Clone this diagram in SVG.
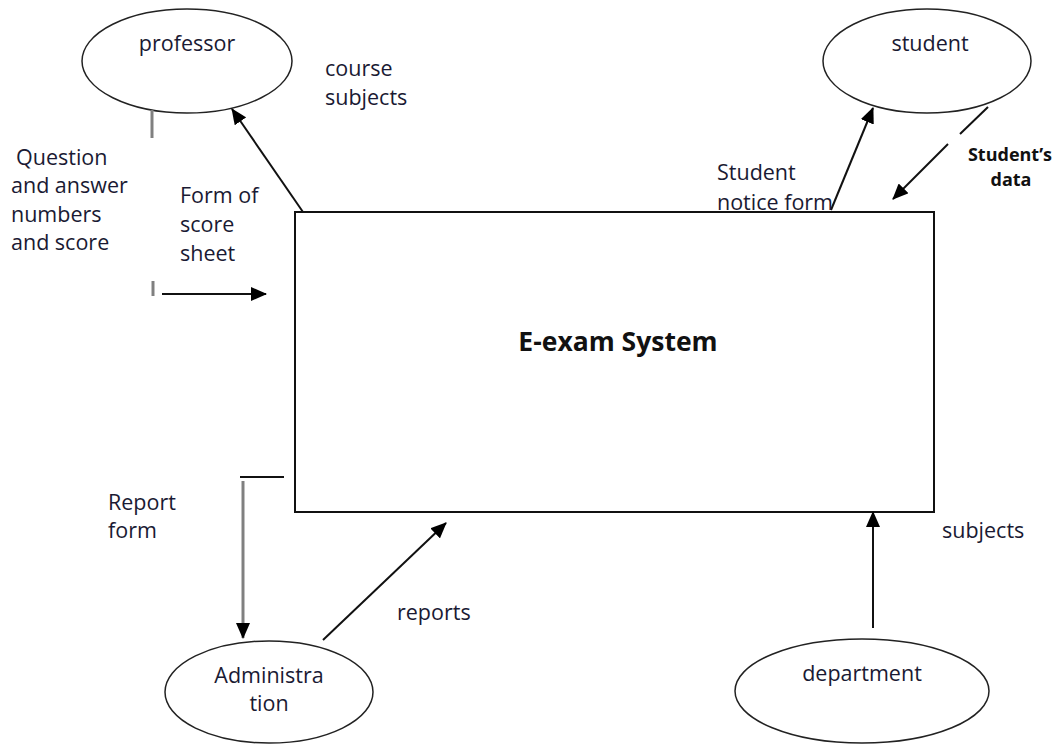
<svg xmlns="http://www.w3.org/2000/svg" width="1059" height="745" viewBox="0 0 1059 745">
<style>
.node ellipse{fill:#fff;stroke:#222;stroke-width:1.5}
.t{font-family:"Open Sans","Noto Sans",sans-serif;font-size:21.5px;fill:#1a1a33}
.b{font-family:"Open Sans","Noto Sans",sans-serif;font-weight:bold;fill:#111}
.c{text-anchor:middle}
.ln{stroke:#111;stroke-width:2;fill:none}
.gr{stroke:#808080;stroke-width:3;fill:none}
</style>
<defs>
<marker id="ah" markerUnits="userSpaceOnUse" markerWidth="16" markerHeight="14" viewBox="0 0 16 14" refX="15" refY="7" orient="auto">
<path d="M0,0 L16,7 L0,14 Z" fill="#000"/>
</marker>
</defs>
<rect width="1059" height="745" fill="#fff"/>
<g id="system" class="node">
<rect x="295" y="212" width="639" height="300" fill="#fff" stroke="#111" stroke-width="2"/>
<text class="b c" x="618" y="351" font-size="26.5">E-exam System</text>
</g>
<g id="professor" class="node">
<ellipse cx="187" cy="61" rx="105" ry="52"/>
<text class="t c" x="187" y="51">professor</text>
</g>
<g id="student" class="node">
<ellipse cx="927" cy="61" rx="104" ry="52"/>
<text class="t c" x="930" y="51">student</text>
</g>
<g id="administration" class="node">
<ellipse cx="269" cy="692" rx="104" ry="51"/>
<text class="t c" x="269" y="683">Administra</text>
<text class="t c" x="269" y="711">tion</text>
</g>
<g id="department" class="node">
<ellipse cx="862" cy="691" rx="127" ry="52"/>
<text class="t c" x="862" y="681">department</text>
</g>
<g id="connectors">
<line class="ln" x1="303" y1="212" x2="232" y2="109" marker-end="url(#ah)"/>
<line class="gr" x1="152" y1="110" x2="152" y2="138"/>
<line class="gr" x1="153" y1="281" x2="153" y2="296" stroke-width="2"/>
<line class="ln" x1="162" y1="294" x2="266" y2="294" marker-end="url(#ah)"/>
<line class="ln" x1="831" y1="210" x2="873" y2="108" stroke-width="1.8" marker-end="url(#ah)"/>
<line class="ln" x1="988" y1="107" x2="960" y2="134"/>
<line class="ln" x1="948" y1="144" x2="893" y2="199" marker-end="url(#ah)"/>
<line class="ln" x1="240" y1="477" x2="284" y2="477"/>
<line class="gr" x1="243" y1="481" x2="243" y2="638" stroke-width="2.5" marker-end="url(#ah)"/>
<line class="ln" x1="323" y1="640" x2="446" y2="523" marker-end="url(#ah)"/>
<line class="ln" x1="873" y1="628" x2="873" y2="512" marker-end="url(#ah)"/>
</g>
<g id="labels">
<text class="t" x="325" y="76">course</text>
<text class="t" x="325" y="105">subjects</text>
<text class="t" x="16" y="165">Question</text>
<text class="t" x="11" y="193">and answer</text>
<text class="t" x="11" y="222">numbers</text>
<text class="t" x="11" y="250">and score</text>
<text class="t" x="180" y="203">Form of</text>
<text class="t" x="180" y="232">score</text>
<text class="t" x="180" y="261">sheet</text>
<text class="t" x="717" y="180">Student</text>
<text class="t" x="717" y="210">notice form</text>
<text class="b c" x="1010" y="161" font-size="18">Student’s</text>
<text class="b c" x="1011" y="186" font-size="18">data</text>
<text class="t" x="108" y="510">Report</text>
<text class="t" x="108" y="538">form</text>
<text class="t" x="397" y="620">reports</text>
<text class="t" x="942" y="538">subjects</text>
</g>
</svg>
